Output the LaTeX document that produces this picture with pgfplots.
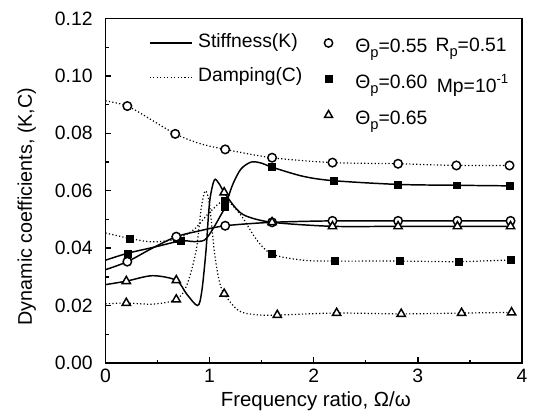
\documentclass[border=0pt]{standalone}
\usepackage{fontspec}
\setmainfont{Liberation Sans}
\usepackage{pgfplots}
\pgfplotsset{compat=1.18}
\newcommand\sub[1]{\raisebox{-0.5ex}{\fontsize{11}{11}\selectfont #1}}
\newcommand\sups[1]{\raisebox{0.85ex}{\fontsize{10}{10}\selectfont #1}}
\pgfplotsset{
  stiff/.style={line width=1.1pt, smooth, tension=0.5, forget plot, black},
  damp/.style={line width=0.9pt, dash pattern=on 0.9pt off 1.7pt, smooth, tension=0.5, forget plot, black},
  cmark/.style={only marks, forget plot, mark=*, mark size=3.2pt, mark options={solid, fill=white, draw=black, line width=1.1pt}},
  smark/.style={only marks, forget plot, mark=square*, mark size=2.6pt, mark options={solid, fill=black, draw=black}},
  tmark/.style={only marks, forget plot, mark=triangle*, mark size=3.6pt, mark options={solid, fill=white, draw=black, line width=1.1pt}},
}
\begin{document}
\begin{tikzpicture}[font=\fontsize{14.5}{17}\selectfont]
\begin{axis}[
  at={(0,0)}, anchor=south west,
  scale only axis, width=312.4pt, height=258.4pt,
  xmin=0, xmax=4, ymin=0, ymax=0.12,
  xtick={0,1,2,3,4}, ytick={0,0.02,0.04,0.06,0.08,0.10,0.12},
  minor x tick num=1, minor y tick num=1,
  tick pos=left, tick align=inside,
  major tick length=4.5pt, minor tick length=2.5pt,
  axis line style={line width=1.1pt}, tick style={line width=1pt, black},
  /pgf/number format/assume math mode=true,
  yticklabel style={/pgf/number format/fixed, /pgf/number format/fixed zerofill, /pgf/number format/precision=2, inner sep=0pt, xshift=-9.5pt},
  xticklabel style={inner sep=0pt, yshift=-4.5pt},
  scaled y ticks=false,
  xlabel={Frequency ratio, Ω/ω},
  ylabel={Dynamic coefficients, (K,C)},
  xlabel style={at={(axis description cs:0.505,-0.127)}, anchor=base, font=\fontsize{15.3}{18}\selectfont},
  ylabel style={at={(axis description cs:-0.1765,0.454)}, anchor=base, font=\fontsize{14.8}{18}\selectfont},
  legend style={at={(axis description cs:0.104,0.958)}, anchor=north west, draw=none, fill=none, inner sep=0pt, row sep=10.5pt, column sep=3.75pt, nodes={inner sep=0pt, text height=11pt, text depth=4pt}},
  legend cell align=left,
  legend image code/.code={\draw[#1] (0pt,0pt)--(32pt,0pt);},
]
% ---- Theta=0.55 (circles)
\addplot[damp] coordinates {(0,0.0913) (0.21,0.0895) (0.45,0.0845) (0.67,0.0798) (0.9,0.0765) (1.15,0.0744) (1.6,0.0715) (2.18,0.0698) (2.81,0.0694) (3.37,0.0688) (3.88,0.0688)};
\addplot[stiff] coordinates {(0,0.0325) (0.21,0.0353) (0.45,0.0400) (0.68,0.0440) (0.9,0.0460) (1.15,0.0478) (1.6,0.0490) (2.18,0.0495) (2.81,0.0495) (3.38,0.0495) (3.89,0.0495)};
% ---- Theta=0.60 (squares)
\addplot[damp] coordinates {(0,0.0453) (0.23,0.0434) (0.45,0.0422) (0.68,0.0432) (0.85,0.0465) (1.0,0.0525) (1.15,0.0566) (1.3,0.0515) (1.45,0.0430) (1.6,0.0379) (1.9,0.0358) (2.2,0.0355) (2.83,0.0355) (3.39,0.0353) (3.89,0.0359)};
\addplot[stiff] coordinates {(0,0.0358) (0.21,0.0382) (0.45,0.0402) (0.72,0.0425) (0.85,0.0423) (0.95,0.0428) (1.02,0.0460) (1.1,0.0510) (1.15,0.0545) (1.22,0.0620) (1.3,0.0675) (1.40,0.0700) (1.5,0.0696) (1.6,0.0682) (1.9,0.0650) (2.19,0.0635) (2.81,0.0622) (3.37,0.0619) (3.88,0.0617)};
% ---- Theta=0.65 (triangles)
\addplot[damp] coordinates {(0,0.0206) (0.2,0.0209) (0.45,0.0205) (0.68,0.0221) (0.78,0.0270) (0.87,0.0390) (0.92,0.0540) (0.96,0.0600) (1.0,0.0550) (1.045,0.0390) (1.09,0.0290) (1.14,0.0241) (1.28,0.0182) (1.45,0.0168) (1.65,0.0167) (2.22,0.0174) (2.84,0.0171) (3.42,0.0174) (3.9,0.0176)};
\addplot[stiff] coordinates {(0,0.0273) (0.2,0.0285) (0.45,0.0304) (0.68,0.0288) (0.78,0.0240) (0.885,0.0200) (0.925,0.0250) (0.965,0.0390) (1.0,0.0560) (1.045,0.0637) (1.09,0.0625) (1.14,0.0594) (1.25,0.0540) (1.35,0.0512) (1.6,0.0490) (2.18,0.0476) (2.81,0.0476) (3.38,0.0476) (3.89,0.0476)};
% ---- marks
\addplot[smark] coordinates {(0.23,0.0434) (0.68,0.0432) (1.15,0.0566) (1.6,0.0379) (2.2,0.0355) (2.83,0.0355) (3.39,0.0353) (3.89,0.0359)};
\addplot[smark] coordinates {(0.21,0.0382) (0.72,0.0425) (1.15,0.0545) (1.6,0.0682) (2.19,0.0635) (2.81,0.0622) (3.37,0.0619) (3.88,0.0617)};
\addplot[cmark] coordinates {(0.21,0.0895) (0.67,0.0798) (1.15,0.0744) (1.6,0.0715) (2.18,0.0698) (2.81,0.0694) (3.37,0.0688) (3.88,0.0688)};
\addplot[cmark] coordinates {(0.21,0.0353) (0.68,0.0440) (1.15,0.0478) (1.6,0.0490) (2.18,0.0495) (2.81,0.0495) (3.38,0.0495) (3.89,0.0495)};
\addplot[tmark] coordinates {(0.2,0.0209) (0.68,0.0221) (1.14,0.0241) (1.65,0.0167) (2.22,0.0174) (2.84,0.0171) (3.42,0.0174) (3.9,0.0176)};
\addplot[tmark] coordinates {(0.2,0.0285) (0.68,0.0288) (1.14,0.0594) (1.6,0.0490) (2.18,0.0476) (2.81,0.0476) (3.38,0.0476) (3.89,0.0476)};
\addlegendimage{line width=1.1pt, black}
\addlegendentry{Stiffness(K)}
\addlegendimage{line width=0.9pt, dash pattern=on 0.9pt off 1.7pt, black}
\addlegendentry{Damping(C)}
\node[anchor=base west, inner sep=0pt] at (axis description cs:0.792,0.905) {R\sub{p}=0.51};
\node[anchor=base west, inner sep=0pt] at (axis description cs:0.795,0.785) {Mp=10\sups{-1}};
\end{axis}
\begin{axis}[
  at={(0,0)}, anchor=south west,
  scale only axis, width=312.4pt, height=258.4pt,
  xmin=0, xmax=4, ymin=0, ymax=0.12, hide axis,
  legend style={at={(axis description cs:0.525,0.945)}, anchor=north west, draw=none, fill=none, inner sep=0pt, row sep=12pt, column sep=17pt, nodes={inner sep=0pt, text height=11pt, text depth=4pt}},
  legend cell align=left,
  legend image code/.code={\draw[#1] plot coordinates {(0pt,0.35em)};},
]
\addlegendimage{only marks, mark=*, mark size=3.1pt, mark options={fill=white, draw=black, line width=1.1pt}}
\addlegendentry{Θ\sub{p}=0.55}
\addlegendimage{only marks, mark=square*, mark size=2.5pt, mark options={fill=black, draw=black}}
\addlegendentry{Θ\sub{p}=0.60}
\addlegendimage{only marks, mark=triangle*, mark size=3.4pt, mark options={fill=white, draw=black, line width=1.1pt}}
\addlegendentry{Θ\sub{p}=0.65}
\end{axis}
\path (-79.1pt,-41.25pt) rectangle (322.9pt,272.25pt);
\end{tikzpicture}
\end{document}
